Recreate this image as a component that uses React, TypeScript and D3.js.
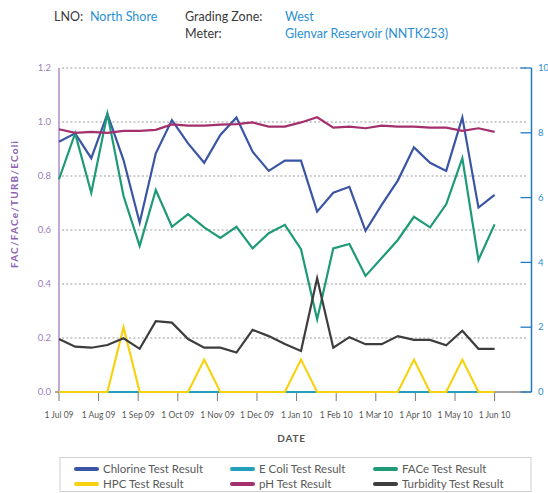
import React from "react";
import * as d3 from "d3";

const monthLabels = ["1 Jul 09", "1 Aug 09", "1 Sep 09", "1 Oct 09", "1 Nov 09", "1 Dec 09", "1 Jan 10", "1 Feb 10", "1 Mar 10", "1 Apr 10", "1 May 10", "1 Jun 10"];

const chlorine = [0.927, 0.958, 0.866, 1.03, 0.859, 0.627, 0.884, 1.007, 0.921, 0.849, 0.952, 1.017, 0.89, 0.819, 0.857, 0.857, 0.668, 0.738, 0.76, 0.597, 0.693, 0.783, 0.906, 0.849, 0.819, 1.017, 0.683, 0.73];
const eColi = [0, 0, 0, 0, 0, 0, 0, 0, 0, 0, 0, 0, 0, 0, 0, 0, 0, 0, 0, 0, 0, 0, 0, 0, 0, 0, 0, 0];
const face = [0.788, 0.958, 0.738, 1.03, 0.726, 0.541, 0.748, 0.612, 0.659, 0.61, 0.571, 0.612, 0.532, 0.588, 0.619, 0.529, 0.269, 0.532, 0.548, 0.43, 0.496, 0.563, 0.649, 0.61, 0.695, 0.866, 0.489, 0.621];
const hpc = [0, 0, 0, 0, 2, 0, 0, 0, 0, 1, 0, 0, 0, 0, 0, 1, 0, 0, 0, 0, 0, 0, 1, 0, 0, 1, 0, 0];
const ph = [8.11, 8.0, 8.03, 8.0, 8.06, 8.06, 8.09, 8.26, 8.22, 8.22, 8.25, 8.27, 8.32, 8.19, 8.19, 8.32, 8.48, 8.16, 8.19, 8.14, 8.22, 8.19, 8.19, 8.16, 8.16, 8.06, 8.14, 8.03];
const turbidity = [0.196, 0.168, 0.164, 0.174, 0.199, 0.16, 0.262, 0.257, 0.196, 0.164, 0.164, 0.146, 0.23, 0.207, 0.178, 0.152, 0.421, 0.164, 0.203, 0.177, 0.177, 0.207, 0.193, 0.193, 0.173, 0.227, 0.16, 0.16];

const leftTicks = [0, 0.2, 0.4, 0.6, 0.8, 1.0, 1.2];
const rightTicks = [0, 2, 4, 6, 8, 10];

const series = [
  { name: "Chlorine Test Result", values: chlorine, color: "#3b55a5", axis: "left" },
  { name: "E Coli Test Result", values: eColi, color: "#219fbb", axis: "left" },
  { name: "FACe Test Result", values: face, color: "#1e9a78", axis: "left" },
  { name: "HPC Test Result", values: hpc, color: "#f7d211", axis: "right" },
  { name: "pH Test Result", values: ph, color: "#a3306c", axis: "right" },
  { name: "Turbidity Test Result", values: turbidity, color: "#3d3d3d", axis: "left" },
];

const FONT = "Lato, 'Open Sans', sans-serif";

export default function App() {
  const x0 = 59, x1 = 531.5, yTop = 68, yBot = 392;
  const nMonths = monthLabels.length - 1;
  const n = chlorine.length - 1;
  const xMonth = d3.scaleLinear().domain([0, nMonths]).range([59, 494.6]);
  const xSample = (i: number) => xMonth((i * nMonths) / n);
  const yL = d3.scaleLinear().domain([0, 1.2]).range([yBot, yTop]);
  const yR = d3.scaleLinear().domain([0, 10]).range([yBot, yTop]);

  const lineFor = (s: any) => {
    const y = s.axis === "left" ? yL : yR;
    return d3
      .line<number>()
      .x((_, i) => xSample(i))
      .y((v) => y(v))(s.values) as string;
  };

  const legendCols = [74, 230, 373];
  const legendRows = [469, 484];

  return (
    <svg width={548} height={493} style={{ position: "absolute", left: 0, top: 0, background: "#fff" }} fontFamily={FONT}>
      {/* header */}
      <g fontSize={12.5}>
        <text x={54} y={20.5} fill="#3a3a3a">LNO:</text>
        <text x={90} y={20.5} fill="#2b8fd3">North Shore</text>
        <text x={185} y={20.5} fill="#3a3a3a">Grading Zone:</text>
        <text x={285} y={20.5} fill="#2b8fd3">West</text>
        <text x={185} y={37.5} fill="#3a3a3a">Meter:</text>
        <text x={285} y={37.5} fill="#2b8fd3">Glenvar Reservoir (NNTK253)</text>
      </g>

      {/* gridlines */}
      {leftTicks.filter((t) => t > 0).map((t) => (
        <line key={t} x1={x0 + 3} x2={528} y1={yL(t)} y2={yL(t)} stroke="#bdbdbd" strokeWidth={1.3} strokeDasharray="2,2.2" />
      ))}

      {/* x axis */}
      <line x1={55} x2={x1} y1={yBot} y2={yBot} stroke="#8a8a8a" strokeWidth={1.5} />
      {monthLabels.map((m, k) => (
        <g key={m}>
          <line x1={xMonth(k)} x2={xMonth(k)} y1={yBot} y2={yBot + 9} stroke="#777" strokeWidth={1} />
          <text x={xMonth(k)} y={418} textAnchor="middle" fontSize={8.5} fill="#555">{m}</text>
        </g>
      ))}
      <text x={291.5} y={442} textAnchor="middle" fontSize={10} fontWeight="bold" fill="#555" letterSpacing={0.8}>DATE</text>

      {/* left axis */}
      <line x1={x0} x2={x0} y1={yTop} y2={yBot} stroke="#b094cc" strokeWidth={1.6} />
      {leftTicks.map((t) => (
        <text key={t} x={51} y={yL(t) + 3.2} textAnchor="end" fontSize={9.5} fill="#9b7fbd">{t.toFixed(1)}</text>
      ))}
      <text transform={`translate(18,204) rotate(-90)`} textAnchor="middle" fontSize={10} fontWeight="bold" fill="#8c63b3" letterSpacing={1.2}>FAC/FACe/TURB/EColi</text>

      {/* right axis */}
      <line x1={x1} x2={x1} y1={yTop} y2={yBot} stroke="#1f7bc4" strokeWidth={1.5} />
      {rightTicks.map((t) => (
        <g key={t}>
          <line x1={x1 - 11} x2={x1} y1={yR(t)} y2={yR(t)} stroke="#1f7bc4" strokeWidth={1.3} />
          <text x={538} y={yR(t) + 3.2} fontSize={9.5} fill="#2b8fd3">{t}</text>
        </g>
      ))}

      {/* series */}
      {series.map((s) => (
        <path key={s.name} d={lineFor(s)} fill="none" stroke={s.color} strokeWidth={2.2} strokeLinejoin="miter" strokeMiterlimit={10} />
      ))}

      {/* legend */}
      <rect x={60} y={457.5} width={471} height={34} fill="none" stroke="#cfcfcf" strokeWidth={1} />
      {series.map((s, i) => {
        const cx = legendCols[i % 3];
        const cy = legendRows[Math.floor(i / 3)];
        return (
          <g key={s.name}>
            <line x1={cx + 2} x2={cx + 23} y1={cy} y2={cy} stroke={s.color} strokeWidth={4} strokeLinecap="round" />
            <text x={cx + 29} y={cy + 4} fontSize={11.5} fill="#5a5a5a">{s.name}</text>
          </g>
        );
      })}
    </svg>
  );
}
